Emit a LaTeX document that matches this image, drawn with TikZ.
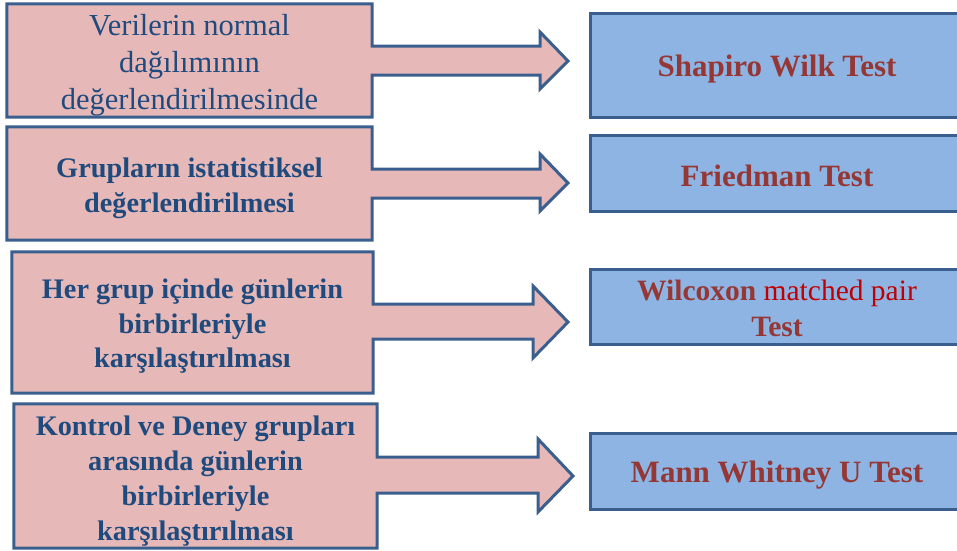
\documentclass[tikz,border=0pt]{standalone}
\usepackage{fontspec}
\setmainfont{Liberation Serif}
\usetikzlibrary{backgrounds}
\definecolor{pinkfill}{HTML}{E6B9B8}
\definecolor{bluefill}{HTML}{8EB4E3}
\definecolor{edgeblue}{HTML}{3A5F8E}
\definecolor{navytext}{HTML}{1F4A7E}
\definecolor{browntext}{HTML}{953735}
\definecolor{redtext}{HTML}{C00000}
\tikzset{
  leftbox/.style={rectangle, inner sep=0pt},
  lefttext/.style={inner sep=0pt, align=center, text=navytext,
    font=\bfseries\fontsize{28.3}{34.5}\selectfont},
  callout/.style={fill=pinkfill, draw=edgeblue, line width=3pt, line join=miter},
  resultbox/.style={rectangle, inner sep=0pt, fill=bluefill,
    draw=edgeblue, line width=3pt, minimum width=374pt},
  resulttext/.style={inner sep=0pt, align=center, text=browntext,
    font=\bfseries\fontsize{31}{36}\selectfont},
}
% #1 node, #2 shaft top, #3 shaft bottom, #4 head base x, #5 head top, #6 head bottom, #7 tip coordinate
\newcommand\mycallout[7]{%
  \path[callout] (#1.north west) -- (#1.north east) -- (#1.east |- 0,#2) -- (#4,#2)
    -- (#4,#5) -- (#7) -- (#4,#6) -- (#4,#3) -- (#1.east |- 0,#3)
    -- (#1.south east) -- (#1.south west) -- cycle;}
\begin{document}
\begin{tikzpicture}[x=1pt,y=-1pt]
\useasboundingbox (0,0) rectangle (957,550);
% left boxes
\node[leftbox, minimum width=365pt, minimum height=113pt] (l1) at (189.5,60.5) {};
\node[leftbox, minimum width=365pt, minimum height=113pt] (l2) at (189.5,183.5) {};
\node[leftbox, minimum width=361pt, minimum height=141pt] (l3) at (192.5,322.5) {};
\node[leftbox, minimum width=363pt, minimum height=144pt] (l4) at (195.5,476) {};
% arrow tips
\coordinate (t1) at (568,61);
\coordinate (t2) at (568,183);
\coordinate (t3) at (568,322);
\coordinate (t4) at (573,476);
\begin{scope}[on background layer]
  \mycallout{l1}{46}{75}{540}{32}{89}{t1}
  \mycallout{l2}{169}{198}{540}{154}{211}{t2}
  \mycallout{l3}{304}{339}{533}{286}{358}{t3}
  \mycallout{l4}{457}{493}{538}{439}{512}{t4}
\end{scope}
% left texts
\node[lefttext, font=\fontsize{30.5}{37}\selectfont] (l1t) at ([yshift=-5pt]l1.center)
  {Verilerin normal\\dağılımının\\değerlendirilmesinde};
\node[lefttext] (l2t) at ([yshift=-5pt]l2.center)
  {Grupların istatistiksel\\değerlendirilmesi};
\node[lefttext] (l3t) at ([yshift=-4pt]l3.center)
  {Her grup içinde günlerin\\birbirleriyle\\karşılaştırılması};
\node[lefttext, font=\bfseries\fontsize{28.3}{35}\selectfont] (l4t) at ([yshift=-5pt]l4.center)
  {Kontrol ve Deney grupları\\arasında günlerin\\birbirleriyle\\karşılaştırılması};
% result boxes
\node[resultbox, minimum height=104pt] (r1) at (777,65) {};
\node[resultbox, minimum height=76pt] (r2) at (777,173) {};
\node[resultbox, minimum height=75pt] (r3) at (777,306.5) {};
\node[resultbox, minimum height=76pt] (r4) at (777,471) {};
\node[resulttext] (r1t) at ([yshift=-4pt]r1.center) {Shapiro Wilk Test};
\node[resulttext] (r2t) at ([yshift=-3pt]r2.center) {Friedman Test};
\node[resulttext, font=\fontsize{29.5}{36}\selectfont] (r3t) at ([yshift=-2pt]r3.center)
  {\textbf{Wilcoxon} \textcolor{redtext}{matched pair}\\\textbf{Test}};
\node[resulttext] (r4t) at ([yshift=-4pt]r4.center) {Mann Whitney U Test};
\end{tikzpicture}
\end{document}
